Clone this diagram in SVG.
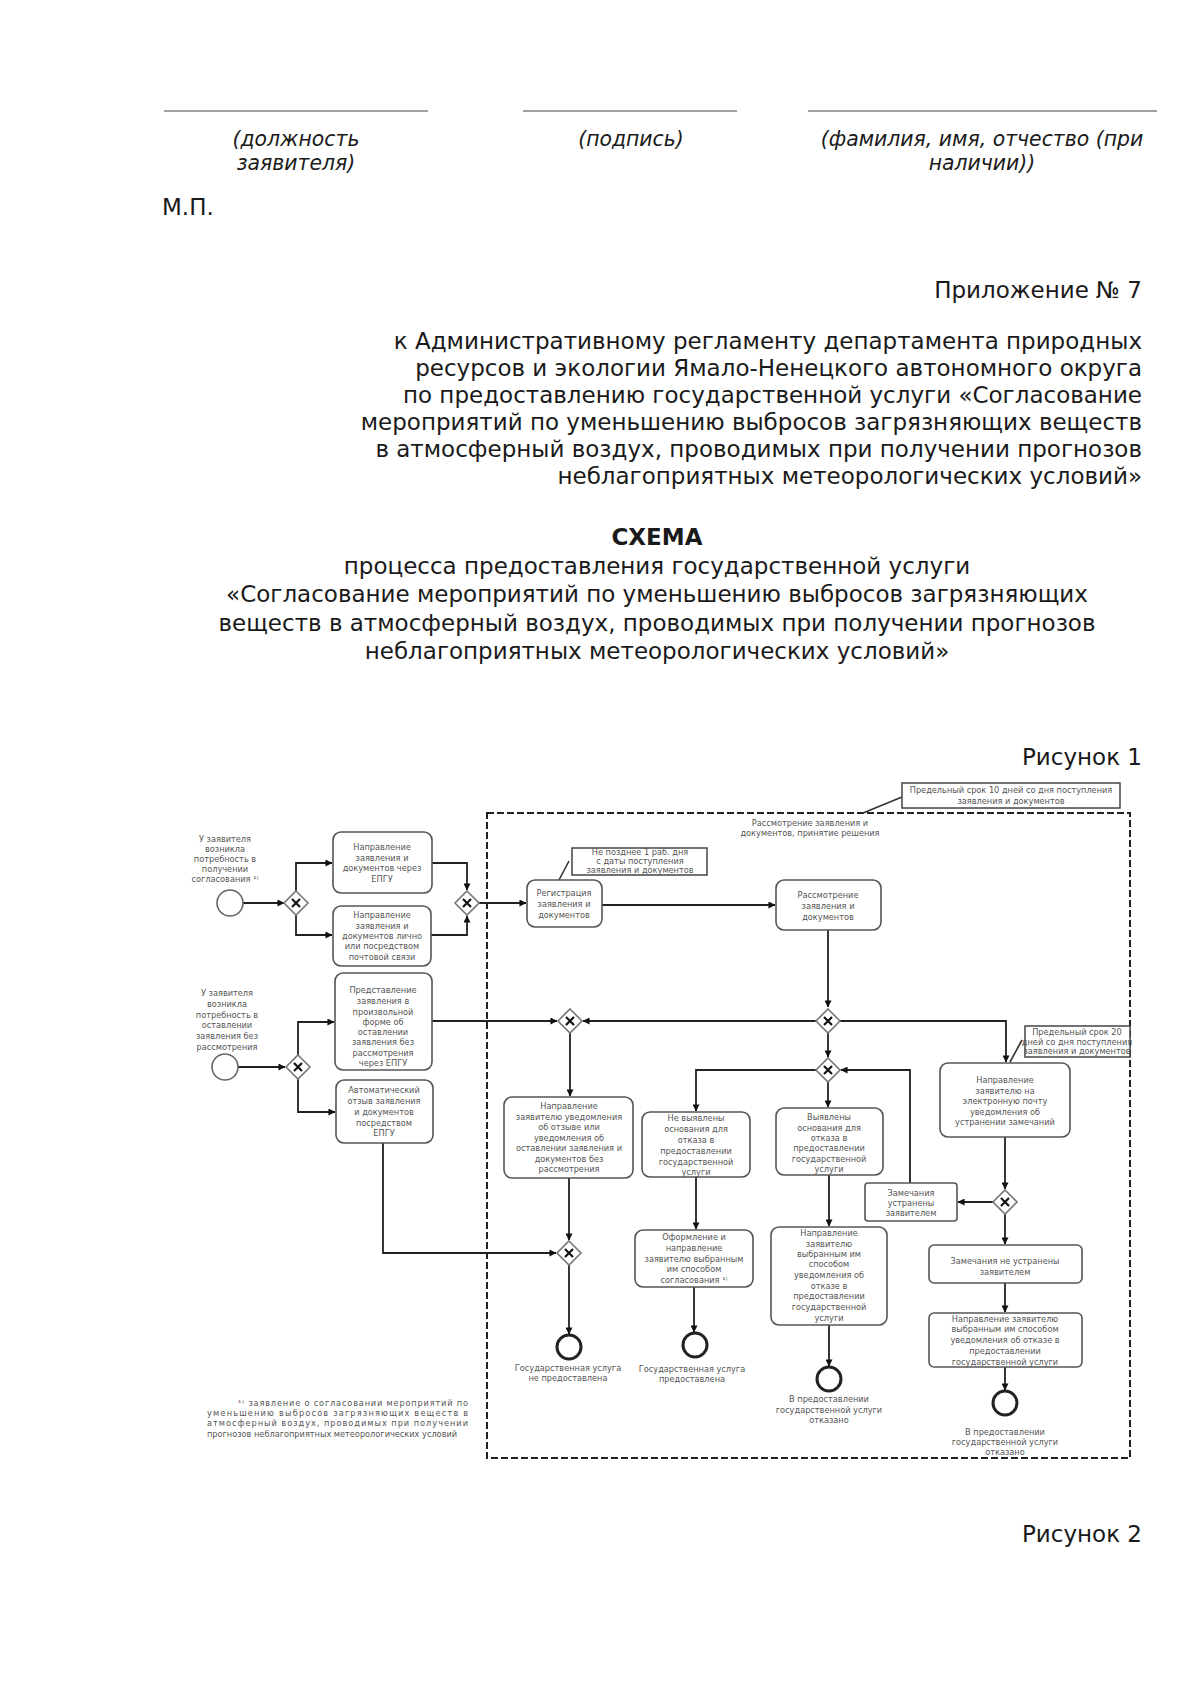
<svg xmlns="http://www.w3.org/2000/svg" width="1200" height="1696" viewBox="0 0 1200 1696">
<style>
.pg{font-family:"DejaVu Sans","Liberation Sans",sans-serif;font-size:23px;fill:#1a1a1a}
.it{font-family:"DejaVu Sans","Liberation Sans",sans-serif;font-size:20.4px;font-style:italic;fill:#1a1a1a;text-anchor:middle}
.r{text-anchor:end}
.c{text-anchor:middle}
.b{font-weight:bold}
.t{font-family:"DejaVu Sans","Liberation Sans",sans-serif;font-size:8.2px;fill:#555;text-anchor:middle}
.fn{font-family:"DejaVu Sans","Liberation Sans",sans-serif;font-size:8.2px;fill:#555}
.task{fill:#fff;stroke:#555;stroke-width:1.6}
.ann{fill:#fff;stroke:#444;stroke-width:1.5}
.ev{fill:#fff;stroke:#666;stroke-width:1.6}
.end{fill:#fff;stroke:#222;stroke-width:3}
.gw{fill:#fff;stroke:#777;stroke-width:1.6}
.gx{stroke:#111;stroke-width:2.2}
.cn{fill:none;stroke:#222;stroke-width:1.8}
.as{fill:none;stroke:#333;stroke-width:1.6}
.pool{fill:none;stroke:#222;stroke-width:2;stroke-dasharray:7,3}
.sig{stroke:#444;stroke-width:1}
</style>
<defs>
<marker id="ar" viewBox="0 0 8 8" refX="7.5" refY="4" markerWidth="7" markerHeight="7" markerUnits="userSpaceOnUse" orient="auto">
<path d="M0,0 L8,4 L0,8 z" fill="#111"/>
</marker>
<g id="gwShape">
<path class="gw" d="M0,-12 L12,0 L0,12 L-12,0 z"/>
<path class="gx" d="M-4,-4 L4,4 M4,-4 L-4,4"/>
</g>
</defs>
<rect width="1200" height="1696" fill="#fff"/>

<g id="page-text">
<line class="sig" x1="164" y1="111" x2="428" y2="111"/>
<line class="sig" x1="523" y1="111" x2="737" y2="111"/>
<line class="sig" x1="808" y1="111" x2="1157" y2="111"/>
<text class="it" x="296" y="146">(должность</text>
<text class="it" x="296" y="170">заявителя)</text>
<text class="it" x="631" y="146">(подпись)</text>
<text class="it" x="982" y="146">(фамилия, имя, отчество (при</text>
<text class="it" x="982" y="170">наличии))</text>
<text class="pg" x="162" y="215">М.П.</text>
<text class="pg r" x="1142" y="298">Приложение № 7</text>
<text class="pg r" x="1142" y="349">к Административному регламенту департамента природных</text>
<text class="pg r" x="1142" y="376">ресурсов и экологии Ямало-Ненецкого автономного округа</text>
<text class="pg r" x="1142" y="403">по предоставлению государственной услуги «Согласование</text>
<text class="pg r" x="1142" y="430">мероприятий по уменьшению выбросов загрязняющих веществ</text>
<text class="pg r" x="1142" y="457">в атмосферный воздух, проводимых при получении прогнозов</text>
<text class="pg r" x="1142" y="484">неблагоприятных метеорологических условий»</text>
<text class="pg c b" x="657" y="545">СХЕМА</text>
<text class="pg c" x="657" y="574">процесса предоставления государственной услуги</text>
<text class="pg c" x="657" y="602">«Согласование мероприятий по уменьшению выбросов загрязняющих</text>
<text class="pg c" x="657" y="631">веществ в атмосферный воздух, проводимых при получении прогнозов</text>
<text class="pg c" x="657" y="659">неблагоприятных метеорологических условий»</text>
<text class="pg r" x="1142" y="765">Рисунок 1</text>
<text class="pg r" x="1142" y="1542">Рисунок 2</text>
</g>

<g id="pool">
<rect class="pool" x="487" y="813" width="643" height="645"/>
<text class="t" x="810" y="826">Рассмотрение заявления и</text>
<text class="t" x="810" y="836">документов, принятие решения</text>
</g>

<g id="connectors">
<path class="cn" d="M243,903 H284" marker-end="url(#ar)"/>
<path class="cn" d="M296,891 V863 H332" marker-end="url(#ar)"/>
<path class="cn" d="M296,915 V935 H332" marker-end="url(#ar)"/>
<path class="cn" d="M432,863 H467 V890" marker-end="url(#ar)"/>
<path class="cn" d="M431,935 H467 V916" marker-end="url(#ar)"/>
<path class="cn" d="M479,903 H526" marker-end="url(#ar)"/>
<path class="cn" d="M602,905 H775" marker-end="url(#ar)"/>
<path class="cn" d="M828,930 V1007" marker-end="url(#ar)"/>
<path class="cn" d="M816,1021 H583" marker-end="url(#ar)"/>
<path class="cn" d="M432,1021 H557" marker-end="url(#ar)"/>
<path class="cn" d="M570,1033 V1096" marker-end="url(#ar)"/>
<path class="cn" d="M569,1178 V1240" marker-end="url(#ar)"/>
<path class="cn" d="M383,1143 V1253 H556" marker-end="url(#ar)"/>
<path class="cn" d="M569,1265 V1334" marker-end="url(#ar)"/>
<path class="cn" d="M828,1033 V1057" marker-end="url(#ar)"/>
<path class="cn" d="M816,1070 H696 V1111" marker-end="url(#ar)"/>
<path class="cn" d="M828,1082 V1107" marker-end="url(#ar)"/>
<path class="cn" d="M910,1183 V1070 H841" marker-end="url(#ar)"/>
<path class="cn" d="M696,1177 V1229" marker-end="url(#ar)"/>
<path class="cn" d="M829,1175 V1226" marker-end="url(#ar)"/>
<path class="cn" d="M694,1287 V1332" marker-end="url(#ar)"/>
<path class="cn" d="M829,1325 V1366" marker-end="url(#ar)"/>
<path class="cn" d="M840,1021 H1006 V1062" marker-end="url(#ar)"/>
<path class="cn" d="M1005,1137 V1189" marker-end="url(#ar)"/>
<path class="cn" d="M993,1202 H958" marker-end="url(#ar)"/>
<path class="cn" d="M1005,1214 V1244" marker-end="url(#ar)"/>
<path class="cn" d="M1005,1283 V1312" marker-end="url(#ar)"/>
<path class="cn" d="M1005,1367 V1390" marker-end="url(#ar)"/>
<path class="cn" d="M238,1067 H285" marker-end="url(#ar)"/>
<path class="cn" d="M298,1055 V1022 H334" marker-end="url(#ar)"/>
<path class="cn" d="M298,1079 V1112 H335" marker-end="url(#ar)"/>
<path class="as" d="M559,880 L569,861"/>
<path class="as" d="M863,813 L902,797"/>
<path class="as" d="M1010,1062 L1022,1040"/>
</g>

<g id="start1">
<circle class="ev" cx="230" cy="903" r="13"/>
<text class="t" x="225" y="842">У заявителя</text>
<text class="t" x="225" y="852">возникла</text>
<text class="t" x="225" y="862">потребность в</text>
<text class="t" x="225" y="872">получении</text>
<text class="t" x="225" y="882">согласования ¹⁾</text>
</g>
<g id="start2">
<circle class="ev" cx="225" cy="1067" r="13"/>
<text class="t" x="227" y="996">У заявителя</text>
<text class="t" x="227" y="1007">возникла</text>
<text class="t" x="227" y="1018">потребность в</text>
<text class="t" x="227" y="1028">оставлении</text>
<text class="t" x="227" y="1039">заявления без</text>
<text class="t" x="227" y="1050">рассмотрения</text>
</g>

<g id="gw1"><use href="#gwShape" x="296" y="903"/></g>
<g id="gw2"><use href="#gwShape" x="467" y="903"/></g>
<g id="gwF"><use href="#gwShape" x="298" y="1067"/></g>
<g id="gwA"><use href="#gwShape" x="828" y="1021"/></g>
<g id="gwB"><use href="#gwShape" x="828" y="1070"/></g>
<g id="gwC"><use href="#gwShape" x="570" y="1021"/></g>
<g id="gwD"><use href="#gwShape" x="1005" y="1202"/></g>
<g id="gwE"><use href="#gwShape" x="569" y="1253"/></g>

<g id="task1">
<rect class="task" x="333" y="832" width="99" height="61" rx="8"/>
<text class="t" x="382" y="850">Направление</text>
<text class="t" x="382" y="861">заявления и</text>
<text class="t" x="382" y="871">документов через</text>
<text class="t" x="382" y="882">ЕПГУ</text>
</g>
<g id="task2">
<rect class="task" x="333" y="906" width="98" height="60" rx="8"/>
<text class="t" x="382" y="918">Направление</text>
<text class="t" x="382" y="929">заявления и</text>
<text class="t" x="382" y="939">документов лично</text>
<text class="t" x="382" y="949">или посредством</text>
<text class="t" x="382" y="960">почтовой связи</text>
</g>
<g id="task3">
<rect class="task" x="335" y="973" width="97" height="97" rx="8"/>
<text class="t" x="383" y="993">Представление</text>
<text class="t" x="383" y="1004">заявления в</text>
<text class="t" x="383" y="1015">произвольной</text>
<text class="t" x="383" y="1025">форме об</text>
<text class="t" x="383" y="1035">оставлении</text>
<text class="t" x="383" y="1045">заявления без</text>
<text class="t" x="383" y="1056">рассмотрения</text>
<text class="t" x="383" y="1066">через ЕПГУ</text>
</g>
<g id="task4">
<rect class="task" x="336" y="1080" width="97" height="63" rx="8"/>
<text class="t" x="384" y="1093">Автоматический</text>
<text class="t" x="384" y="1104">отзыв заявления</text>
<text class="t" x="384" y="1115">и документов</text>
<text class="t" x="384" y="1126">посредством</text>
<text class="t" x="384" y="1136">ЕПГУ</text>
</g>
<g id="task-reg">
<rect class="task" x="527" y="880" width="75" height="47" rx="8"/>
<text class="t" x="564" y="896">Регистрация</text>
<text class="t" x="564" y="907">заявления и</text>
<text class="t" x="564" y="918">документов</text>
</g>
<g id="ann1">
<rect class="ann" x="572" y="848" width="135" height="27"/>
<text class="t" x="640" y="855">Не позднее 1 раб. дня</text>
<text class="t" x="640" y="864">с даты поступления</text>
<text class="t" x="640" y="873">заявления и документов</text>
</g>
<g id="ann2">
<rect class="ann" x="902" y="783" width="218" height="25"/>
<text class="t" x="1011" y="793">Предельный срок 10 дней со дня поступления</text>
<text class="t" x="1011" y="804">заявления и документов</text>
</g>
<g id="task-ras">
<rect class="task" x="776" y="880" width="105" height="50" rx="8"/>
<text class="t" x="828" y="898">Рассмотрение</text>
<text class="t" x="828" y="909">заявления и</text>
<text class="t" x="828" y="920">документов</text>
</g>
<g id="task-notify">
<rect class="task" x="504" y="1097" width="129" height="81" rx="8"/>
<text class="t" x="569" y="1109">Направление</text>
<text class="t" x="569" y="1120">заявителю уведомления</text>
<text class="t" x="569" y="1130">об отзыве или</text>
<text class="t" x="569" y="1141">уведомления об</text>
<text class="t" x="569" y="1151">оставлении заявления и</text>
<text class="t" x="569" y="1162">документов без</text>
<text class="t" x="569" y="1172">рассмотрения</text>
</g>
<g id="task-nv">
<rect class="task" x="642" y="1112" width="108" height="65" rx="8"/>
<text class="t" x="696" y="1121">Не выявлены</text>
<text class="t" x="696" y="1132">основания для</text>
<text class="t" x="696" y="1143">отказа в</text>
<text class="t" x="696" y="1154">предоставлении</text>
<text class="t" x="696" y="1165">государственной</text>
<text class="t" x="696" y="1175">услуги</text>
</g>
<g id="task-v">
<rect class="task" x="776" y="1108" width="107" height="67" rx="8"/>
<text class="t" x="829" y="1120">Выявлены</text>
<text class="t" x="829" y="1131">основания для</text>
<text class="t" x="829" y="1141">отказа в</text>
<text class="t" x="829" y="1151">предоставлении</text>
<text class="t" x="829" y="1162">государственной</text>
<text class="t" x="829" y="1172">услуги</text>
</g>
<g id="task-fix">
<rect class="task" x="940" y="1063" width="130" height="74" rx="8"/>
<text class="t" x="1005" y="1083">Направление</text>
<text class="t" x="1005" y="1094">заявителю на</text>
<text class="t" x="1005" y="1104">электронную почту</text>
<text class="t" x="1005" y="1115">уведомления об</text>
<text class="t" x="1005" y="1125">устранении замечаний</text>
</g>
<g id="ann3">
<rect class="ann" x="1025" y="1026" width="105" height="31"/>
<text class="t" x="1077" y="1035">Предельный срок 20</text>
<text class="t" x="1077" y="1045">дней со дня поступления</text>
<text class="t" x="1077" y="1054">заявления и документов</text>
</g>
<g id="box-fixed">
<rect class="task" x="865" y="1183" width="92" height="38" rx="3"/>
<text class="t" x="911" y="1196">Замечания</text>
<text class="t" x="911" y="1206">устранены</text>
<text class="t" x="911" y="1216">заявителем</text>
</g>
<g id="task-notfixed">
<rect class="task" x="929" y="1245" width="153" height="38" rx="5"/>
<text class="t" x="1005" y="1264">Замечания не устранены</text>
<text class="t" x="1005" y="1275">заявителем</text>
</g>
<g id="task-refuse2">
<rect class="task" x="929" y="1313" width="153" height="54" rx="5"/>
<text class="t" x="1005" y="1322">Направление заявителю</text>
<text class="t" x="1005" y="1332">выбранным им способом</text>
<text class="t" x="1005" y="1343">уведомления об отказе в</text>
<text class="t" x="1005" y="1354">предоставлении</text>
<text class="t" x="1005" y="1365">государственной услуги</text>
</g>
<g id="task-issue">
<rect class="task" x="635" y="1230" width="118" height="57" rx="8"/>
<text class="t" x="694" y="1240">Оформление и</text>
<text class="t" x="694" y="1251">направление</text>
<text class="t" x="694" y="1262">заявителю выбранным</text>
<text class="t" x="694" y="1272">им способом</text>
<text class="t" x="694" y="1283">согласования ¹⁾</text>
</g>
<g id="task-refuse1">
<rect class="task" x="771" y="1227" width="116" height="98" rx="8"/>
<text class="t" x="829" y="1236">Направление</text>
<text class="t" x="829" y="1247">заявителю</text>
<text class="t" x="829" y="1257">выбранным им</text>
<text class="t" x="829" y="1267">способом</text>
<text class="t" x="829" y="1278">уведомления об</text>
<text class="t" x="829" y="1289">отказе в</text>
<text class="t" x="829" y="1299">предоставлении</text>
<text class="t" x="829" y="1310">государственной</text>
<text class="t" x="829" y="1321">услуги</text>
</g>
<g id="end1">
<circle class="end" cx="569" cy="1347" r="12"/>
<text class="t" x="568" y="1371">Государственная услуга</text>
<text class="t" x="568" y="1381">не предоставлена</text>
</g>
<g id="end2">
<circle class="end" cx="695" cy="1345" r="12"/>
<text class="t" x="692" y="1372">Государственная услуга</text>
<text class="t" x="692" y="1382">предоставлена</text>
</g>
<g id="end3">
<circle class="end" cx="829" cy="1379" r="12"/>
<text class="t" x="829" y="1402">В предоставлении</text>
<text class="t" x="829" y="1413">государственной услуги</text>
<text class="t" x="829" y="1423">отказано</text>
</g>
<g id="end4">
<circle class="end" cx="1005" cy="1403" r="12"/>
<text class="t" x="1005" y="1435">В предоставлении</text>
<text class="t" x="1005" y="1445">государственной услуги</text>
<text class="t" x="1005" y="1455">отказано</text>
</g>
<g id="footnote">
<text class="fn" x="238" y="1406" textLength="230" lengthAdjust="spacing">¹⁾ заявление о согласовании мероприятий по</text>
<text class="fn" x="207" y="1416" textLength="261" lengthAdjust="spacing">уменьшению выбросов загрязняющих веществ в</text>
<text class="fn" x="207" y="1426" textLength="261" lengthAdjust="spacing">атмосферный воздух, проводимых при получении</text>
<text class="fn" x="207" y="1437">прогнозов неблагоприятных метеорологических условий</text>
</g>
</svg>
